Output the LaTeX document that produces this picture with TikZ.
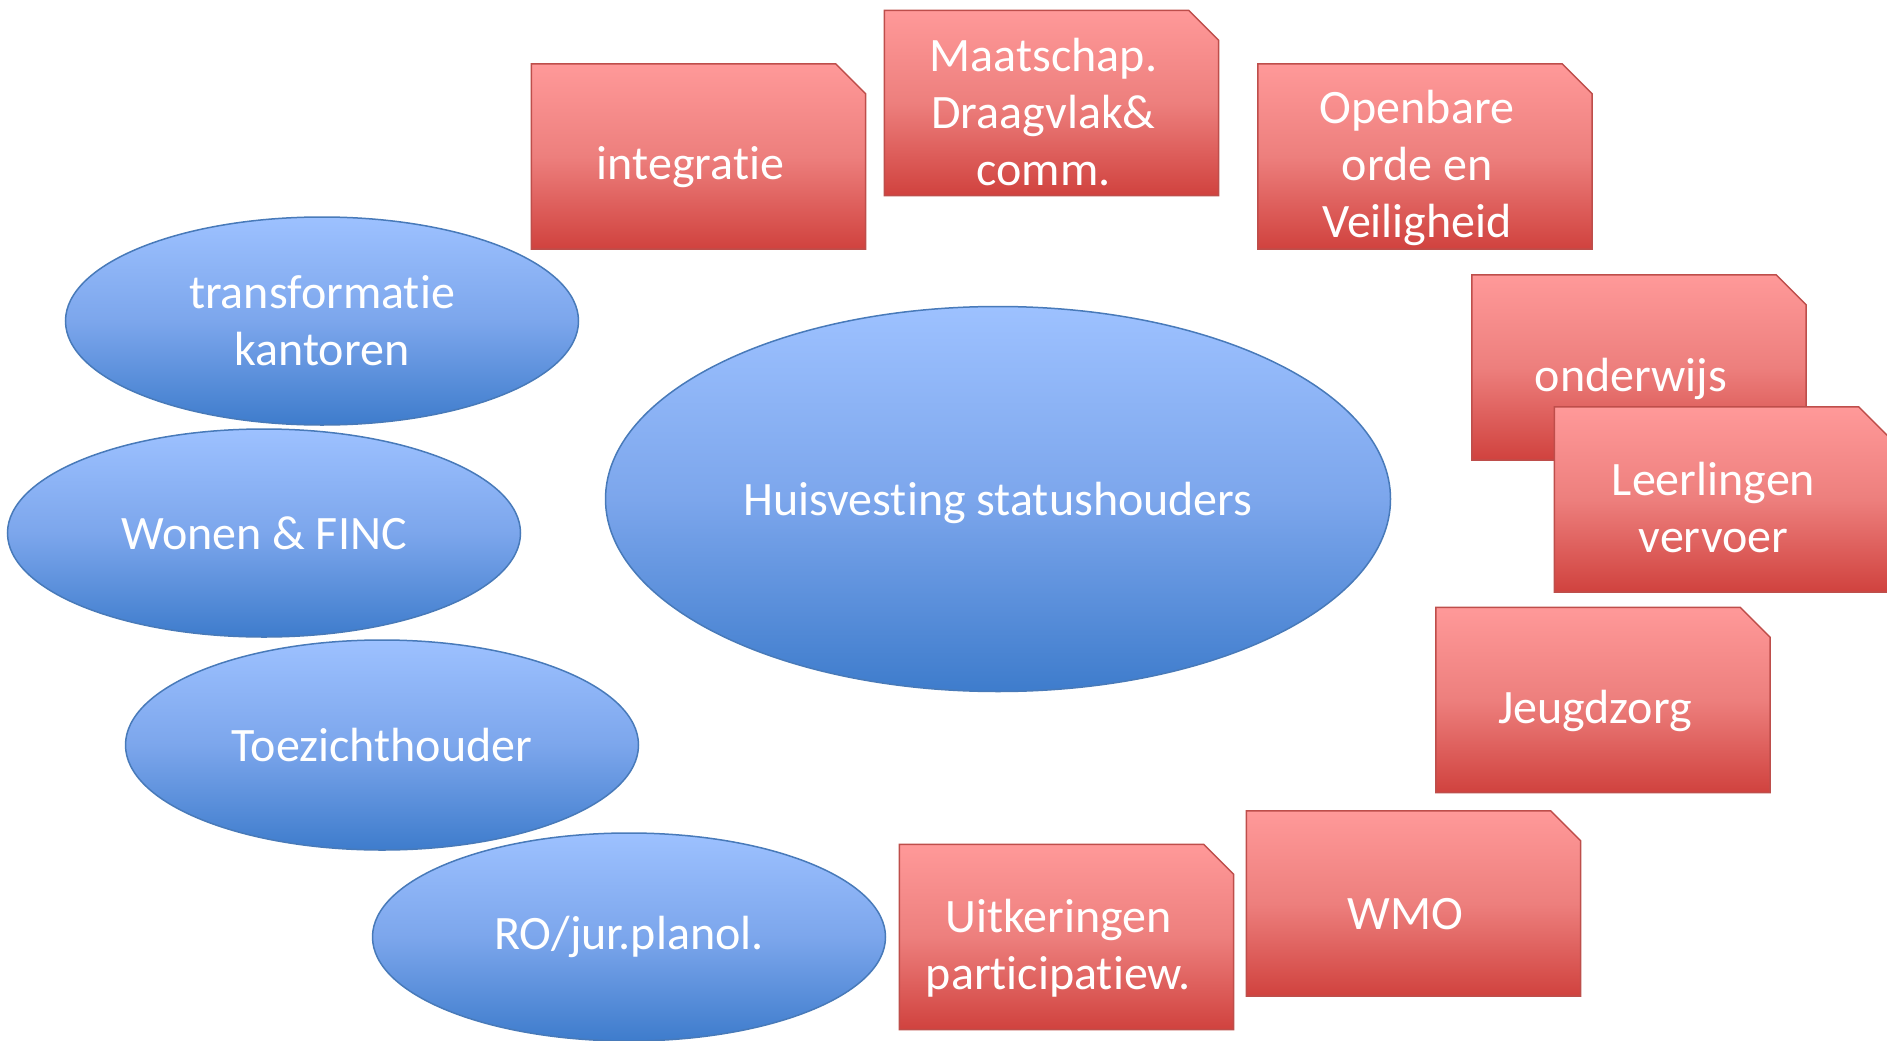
\documentclass[tikz,border=0pt]{standalone}
\usepackage{fontspec}
\setmainfont{Carlito}[Ligatures=CommonOff]
\usepackage{xcolor}
\definecolor{themeline}{RGB}{72,122,185}
\definecolor{themetop}{RGB}{157,193,255}
\definecolor{thememid}{RGB}{124,166,236}
\definecolor{themebottom}{RGB}{62,124,204}
\definecolor{taskline}{RGB}{190,78,75}
\definecolor{tasktop}{RGB}{255,153,153}
\definecolor{taskmid}{RGB}{237,127,125}
\definecolor{taskbottom}{RGB}{208,66,62}
\usepackage{tikz}
\usetikzlibrary{shapes.geometric}
\newcommand{\widthtask}{334pt}
\newcommand{\heighttask}{185pt}
\newcommand{\widththeme}{513pt}
\newcommand{\heighttheme}{208pt}
\newcommand{\snip}{30pt}
\tikzset{
    common/.style={font=\fontsize{48}{57}\selectfont, text=white, align=center, inner sep=0pt},
    theme/.style={common, ellipse, draw=themeline, line width=1.5pt,
        minimum width=\widththeme, minimum height=\heighttheme,
        top color=themetop, bottom color=themebottom, middle color=thememid},
    taskshape/.style={draw=taskline, line width=1.5pt,
        top color=tasktop, bottom color=taskbottom, middle color=taskmid},
    task/.style={rectangle, inner sep=0pt, minimum width=\widthtask, minimum height=\heighttask,
        append after command={\pgfextra{
            \draw[taskshape] (\tikzlastnode.south west) -- (\tikzlastnode.north west)
                -- ([xshift=-\snip]\tikzlastnode.north east) -- ([yshift=-\snip]\tikzlastnode.north east)
                -- (\tikzlastnode.south east) -- cycle;
        }}},
    tasktext/.style={common, xshift=-8pt, yshift=-11pt}
}
\begin{document}
\begin{tikzpicture}[x=1pt, y=-1pt]
    \useasboundingbox (0,0) rectangle (1887,1041);

    % blue themes
    \node[theme, minimum width=785pt, minimum height=385pt, text depth=0pt] (huisvesting) at (998,499) {Huisvesting statushouders};
    \node[theme] (transformatie) at (322,321) {transformatie\\kantoren};
    \node[theme] (wonen) at (264,533) {Wonen \& FINC};
    \node[theme, minimum height=210pt] (toezicht) at (382,745) {Toezichthouder};
    \node[theme] (ro) at (629,937) {RO/jur.planol.};

    % red tasks, text sits a bit below the middle
    \node[task, label={[tasktext]center:integratie}] (integratie) at (698.5,156.5) {};
    \node[task, label={[tasktext, yshift=2pt]center:Maatschap.\\Draagvlak\&\\comm.}] (maatschap) at (1051.5,103) {};
    \node[task, label={[tasktext]center:Openbare\\orde en\\Veiligheid}] (openbare) at (1425,156.5) {};
    \node[task, label={[tasktext]center:onderwijs}] (onderwijs) at (1639,367.5) {};
    \node[task, label={[tasktext, yshift=3pt]center:Leerlingen\\vervoer}] (leerlingen) at (1721.5,499.5) {};
    \node[task, label={[tasktext]center:Jeugdzorg}] (jeugdzorg) at (1603,700) {};
    \node[task, label={[tasktext]center:WMO}] (wmo) at (1413.5,903.5) {};
    \node[task, label={[tasktext]center:Uitkeringen\\participatiew.}] (uitkeringen) at (1066.5,937) {};
\end{tikzpicture}
\end{document}
